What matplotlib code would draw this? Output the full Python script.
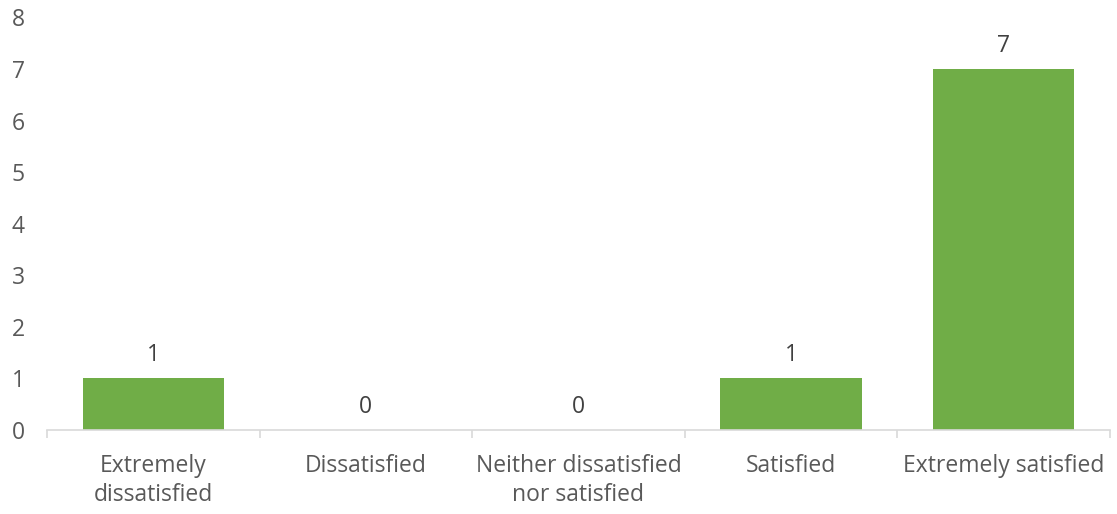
import matplotlib.pyplot as plt
import numpy as np

categories = ["Extremely\ndissatisfied", "Dissatisfied", "Neither dissatisfied\nnor satisfied",
              "Satisfied", "Extremely satisfied"]
counts = [1, 0, 0, 1, 7]

plt.rcParams['font.family'] = ['Open Sans', 'DejaVu Sans']
fs = 16.5

fig = plt.figure(figsize=(11.17, 5.14), dpi=100)
ax = fig.add_axes([0.042, 0.1634, 0.9517, 0.8026])

x = np.arange(len(categories))
ax.bar(x, counts, width=0.665, color='#70AD47', zorder=2)
for xi, v in zip(x, counts):
    ax.annotate(str(v), (xi, v), xytext=(0, 8), textcoords='offset points',
                ha='center', va='bottom', fontsize=fs, color='#404040')

ax.set_xlim(-0.5, len(categories) - 0.5)
ax.set_ylim(0, 8)
ax.set_yticks(range(0, 9))
ax.tick_params(axis='y', length=0, labelsize=fs, labelcolor='#595959', pad=16)

ax.set_xticks(x)
ax.set_xticklabels(categories, linespacing=1.32)
ax.tick_params(axis='x', which='major', length=0, labelsize=fs, labelcolor='#595959', pad=17)
ax.set_xticks(np.arange(-0.5, len(categories)), minor=True)
ax.tick_params(axis='x', which='minor', length=6, color='#D9D9D9', width=1.2)

for s in ['top', 'right', 'left']:
    ax.spines[s].set_visible(False)
ax.spines['bottom'].set_color('#D9D9D9')
ax.spines['bottom'].set_linewidth(1.2)

fig.savefig('out.png', dpi=100)
